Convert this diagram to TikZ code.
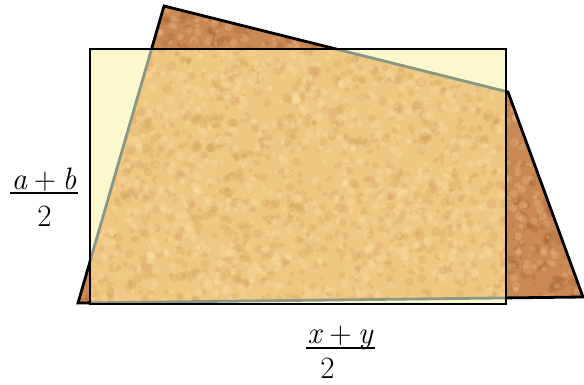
\documentclass[tikz,border=0pt]{standalone}
\usepackage{fontspec}
\definecolor{brownbase}{RGB}{202,136,84}
\definecolor{browndark}{RGB}{150,85,45}
\definecolor{brownlight}{RGB}{240,195,140}
\definecolor{tanbase}{RGB}{238,199,128}
\definecolor{tandark}{RGB}{205,152,85}
\definecolor{tanlight}{RGB}{252,228,170}
\definecolor{paleyellow}{RGB}{252,248,205}
\definecolor{edgegray}{RGB}{138,150,134}
\newcommand{\mottle}[3]{%
  \pgfmathsetseed{#3}%
  \foreach \i in {1,...,1500}{%
    \pgfmathsetmacro\px{78+rnd*506}%
    \pgfmathsetmacro\py{6+rnd*297}%
    \pgfmathsetmacro\pr{1.5+rnd*3.5}%
    \fill[#1,opacity=0.22] (\px,\py) circle[radius=\pr pt];
  }%
  \foreach \i in {1,...,1200}{%
    \pgfmathsetmacro\px{78+rnd*506}%
    \pgfmathsetmacro\py{6+rnd*297}%
    \pgfmathsetmacro\pr{1.5+rnd*3}%
    \fill[#2,opacity=0.3] (\px,\py) circle[radius=\pr pt];
  }%
}
\tikzset{
  outline/.style={draw=black,line width=2.8pt,line join=miter},
  inedge/.style={draw=edgegray,line width=2.8pt,line join=miter},
  lab/.style={inner sep=0pt,anchor=base,font=\rmfamily\fontsize{31}{36}\selectfont},
  fracbar/.style={draw=black,line width=2pt}
}
\begin{document}
\begin{tikzpicture}[x=1pt,y=-1pt]
\useasboundingbox (0,0) rectangle (584,384);
\coordinate (A) at (164,6);
\coordinate (B) at (508,92);
\coordinate (C) at (583,297);
\coordinate (D) at (78,303);
\coordinate (R1) at (90,49);
\coordinate (R2) at (506,304);
% brown quadrilateral
\fill[brownbase] (A)--(B)--(C)--(D)--cycle;
\begin{scope}
  \clip (A)--(B)--(C)--(D)--cycle;
  \mottle{browndark}{brownlight}{11}
\end{scope}
% pale rectangle
\fill[paleyellow] (R1) rectangle (R2);
% overlap
\begin{scope}
  \clip (R1) rectangle (R2);
  \fill[tanbase] (A)--(B)--(C)--(D)--cycle;
  \clip (A)--(B)--(C)--(D)--cycle;
  \mottle{tandark}{tanlight}{5}
\end{scope}
% edges
\begin{scope}[even odd rule]
  \clip (0,0) rectangle (584,384) (R1) rectangle (R2);
  \draw[outline] (A)--(B)--(C)--(D)--cycle;
\end{scope}
\begin{scope}
  \clip (R1) rectangle (R2);
  \draw[inedge] (A)--(B)--(C)--(D)--cycle;
\end{scope}
\draw[outline] (R1) rectangle (R2);
% labels
\node[lab] (abnum) at (44,189) {\textit{a}\hspace{0.2em}+\hspace{0.2em}\textit{b}};
\node[lab] (abden) at (44.5,226) {2};
\draw[fracbar] ([xshift=-1.5pt,yshift=-4pt]abnum.base west) -- ([xshift=1.5pt,yshift=-4pt]abnum.base east);
\node[lab] (xynum) at (340.5,343) {\textit{x}\hspace{0.2em}+\hspace{0.2em}\textit{y}};
\node[lab] (xyden) at (327.5,378) {2};
\draw[fracbar] ([xshift=-1.5pt,yshift=-4.5pt]xynum.base west) -- ([xshift=1.5pt,yshift=-4.5pt]xynum.base east);
\end{tikzpicture}
\end{document}
